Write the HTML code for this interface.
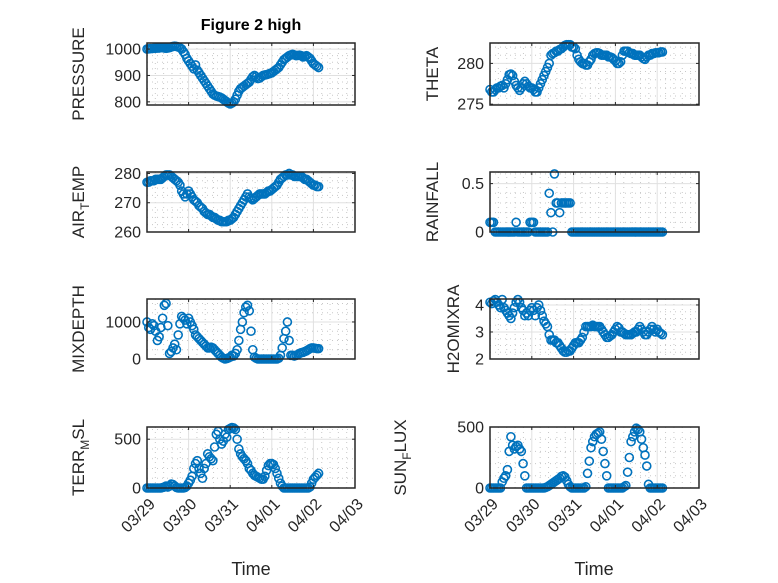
<!DOCTYPE html>
<html><head><meta charset="utf-8"><style>
body{margin:0;background:#fff;}
svg{display:block;font-family:"Liberation Sans","DejaVu Sans",sans-serif;}
</style></head><body>
<svg id="fig" width="778" height="583" viewBox="0 0 778 583" xmlns="http://www.w3.org/2000/svg">
<rect width="778" height="583" fill="#fff"/>
<text x="251" y="30" text-anchor="middle" font-size="16" font-weight="bold" fill="#000">Figure 2 high</text>
<text x="251" y="575" text-anchor="middle" font-size="18" fill="#262626">Time</text>
<text x="594" y="575" text-anchor="middle" font-size="18" fill="#262626">Time</text>
<g id="plots"></g>
</svg>
<script>
const dayTicks = ["03/29","03/30","03/31","04/01","04/02","04/03"];
const pressure = [1000,1001,1002,1002,1003,1003,1004,1004,1005,1005,1004,1003,1004,1005,1008,1010,1011,1010,1008,1005,1000,990,980,965,955,945,935,925,940,920,910,900,890,880,870,860,850,840,830,825,822,820,818,815,810,805,800,795,792,795,800,810,825,840,850,855,860,865,870,875,885,895,900,895,888,890,895,900,902,903,905,908,910,915,920,925,930,940,950,960,965,970,975,978,980,978,975,976,977,975,970,972,975,970,965,955,945,940,935,930];
const airTemp = [277,277,277.5,277.5,277.5,278,278,278,278,278.5,279,279.5,279.5,279.5,279,278.5,278,277.5,277,276,274,273,272,273,274,273,272,271,270.5,270,269,268.5,268,267,266.5,266,266,265.5,265,265,264.5,264,264,263.5,263.5,263.5,263.5,264,264,264.5,265,266,267,268,269,270,271,272,273,272,271.5,271,271.5,272,272.5,273,273,273,273,273.5,274,274,274.5,275,275.5,276,277,278,278.5,279,279.5,279.5,280,279.5,279.5,279,279,279,279,279,278.5,278,278,277.5,277,276.5,276,276,275.5,275.5];
const theta = [276.8,276.5,276.5,276.8,277,277,277.2,277.3,277,277.5,278,278.6,278.7,278.5,277.8,277.3,277,276.7,277,277.5,277.8,277.5,277.2,277,277,276.8,276.5,276.5,277,277.5,278,278.5,279,279.5,280,281,281.2,281.3,281.5,281.5,281.7,281.8,282,282.2,282.3,282.3,282.3,282,282,281.8,281,280.5,280.2,280,280,279.8,279.8,280.2,280.5,281,281.2,281.3,281.3,281.2,281,281,281,281,280.8,280.8,280.7,280.5,280.3,280,280,280.2,281,281.5,281.5,281.5,281.3,281.2,281.2,281,281,281,281,280.8,280.6,280.5,280.8,281,281,281.2,281.2,281.3,281.3,281.3,281.4,281.4];
const rainfall = [0.1,0.1,0.1,0,0,0,0,0,0,0,0,0,0,0,0,0.1,0,0,0,0,0,0,0,0.1,0.1,0.1,0,0,0,0,0,0,0,0,0.4,0.2,0,0.6,0.3,0.3,0.2,0.3,0.3,0.3,0.3,0.3,0.3,0,0,0,0,0,0,0,0,0,0,0,0,0,0,0,0,0,0,0,0,0,0,0,0,0,0,0,0,0,0,0,0,0,0,0,0,0,0,0,0,0,0,0,0,0,0,0,0,0,0,0,0,0];
const mixDepth = [1000,850,800,950,900,750,500,600,850,1100,1450,1500,900,150,200,300,400,250,650,950,1150,1100,1050,950,1100,1000,900,800,650,600,550,500,450,400,350,300,300,320,300,250,200,150,100,50,20,0,10,30,50,100,80,150,250,500,800,1000,1250,1400,1450,1300,750,250,50,20,0,0,0,0,0,0,0,0,0,0,0,0,20,100,300,550,750,1000,500,100,100,80,100,120,150,170,180,200,220,250,280,300,300,290,280,280];
const h2oMix = [4.1,4.05,4.15,4.2,4.1,4.0,3.9,4.2,3.9,3.8,3.7,3.6,3.5,3.7,3.9,4.1,4.2,4.1,3.9,3.8,3.6,3.7,3.6,3.8,3.9,3.8,3.6,3.9,4.0,3.8,3.6,3.4,3.3,3.2,2.9,2.7,2.7,2.7,2.6,2.6,2.5,2.4,2.3,2.25,2.25,2.3,2.3,2.4,2.5,2.6,2.6,2.6,2.7,2.8,3.0,3.2,3.2,3.2,3.2,3.25,3.2,3.2,3.2,3.2,3.1,3.0,2.9,2.8,2.8,2.85,2.9,3.0,3.1,3.2,3.15,3.0,3.0,2.95,2.9,2.9,2.9,2.9,2.95,3.0,3.0,3.1,3.2,3.1,3.0,2.9,2.9,3.0,3.1,3.2,3.1,3.0,3.1,3.0,2.95,2.9];
const terrMsl = [0,0,0,0,0,0,0,0,0,5,10,20,10,20,40,35,20,5,0,0,0,0,5,20,50,80,120,200,250,280,200,150,100,200,250,350,320,300,280,420,550,580,500,450,480,550,520,600,610,620,615,600,500,400,350,320,300,280,250,200,180,150,130,120,110,100,90,90,120,180,230,250,250,240,200,150,100,50,20,0,0,0,0,0,0,0,0,0,0,0,0,0,0,0,10,50,90,110,130,150];
const sunFlux = [0,0,0,0,0,0,0,50,80,100,150,300,420,350,320,340,350,320,300,200,100,0,0,0,0,0,0,0,0,0,0,0,5,10,20,30,40,50,60,70,80,95,100,90,60,30,10,0,0,0,0,0,0,0,0,10,120,220,330,380,420,440,450,460,400,300,200,100,0,0,0,0,0,0,0,0,0,10,20,130,250,380,420,460,490,480,460,400,330,270,180,30,0,0,0,0,0,0,0,0];

const NS="http://www.w3.org/2000/svg";
const root=document.getElementById('plots');
function mk(tag,attrs,parent){const e=document.createElementNS(NS,tag);for(const k in attrs)e.setAttribute(k,attrs[k]);(parent||root).appendChild(e);return e;}

const L={x0:147,x1:355}, R={x0:490,x1:699};
const rows=[{y0:43,y1:105},{y0:172,y1:232},{y0:299,y1:359},{y0:427,y1:488}];
const panels=[
 {key:"pressure",data:pressure,col:L,row:0,ymin:788,ymax:1023,ticks:[800,900,1000],minor:25,label:["PRESSURE"],lx:78},
 {key:"theta",data:theta,col:R,row:0,ymin:274.9,ymax:282.5,ticks:[275,280],minor:1,label:["THETA"],lx:432},
 {key:"air-temp",data:airTemp,col:L,row:1,ymin:260,ymax:280.5,ticks:[260,270,280],minor:2.5,label:["AIR","T","EMP"],lx:78},
 {key:"rainfall",data:rainfall,col:R,row:1,ymin:0,ymax:0.62,ticks:[0,0.5],minor:0.1,label:["RAINFALL"],lx:432},
 {key:"mixdepth",data:mixDepth,col:L,row:2,ymin:0,ymax:1620,ticks:[0,1000],minor:250,label:["MIXDEPTH"],lx:78},
 {key:"h2omixra",data:h2oMix,col:R,row:2,ymin:2,ymax:4.22,ticks:[2,3,4],minor:0.25,label:["H2OMIXRA"],lx:453},
 {key:"terr-msl",data:terrMsl,col:L,row:3,ymin:0,ymax:625,ticks:[0,500],minor:100,label:["TERR","M","SL"],lx:78},
 {key:"sun-flux",data:sunFlux,col:R,row:3,ymin:0,ymax:500,ticks:[0,500],minor:100,label:["SUN","F","LUX"],lx:400}
];

panels.forEach(p=>{
  const c=p.col, r=rows[p.row];
  const g=mk('g',{});
  
  
  const xs=d=>c.x0+(d/5)*(c.x1-c.x0);
  const ys=v=>r.y1-(v-p.ymin)/(p.ymax-p.ymin)*(r.y1-r.y0);
  for(let d=0.2;d<5;d+=0.2){ if(Math.abs(d-Math.round(d))<1e-6) continue;
    mk('line',{x1:xs(d),x2:xs(d),y1:r.y0,y2:r.y1,stroke:'#c8c8c8','stroke-dasharray':'1,4','stroke-width':1},g);}
  const start=Math.ceil(p.ymin/p.minor)*p.minor;
  for(let v=start;v<=p.ymax;v+=p.minor){ if(p.ticks.some(t=>Math.abs(t-v)<1e-9)) continue;
    mk('line',{x1:c.x0,x2:c.x1,y1:ys(v),y2:ys(v),stroke:'#c8c8c8','stroke-dasharray':'1,4','stroke-width':1},g);}
  for(let d=1;d<5;d++) mk('line',{x1:xs(d),x2:xs(d),y1:r.y0,y2:r.y1,stroke:'#e0e0e0','stroke-width':1},g);
  p.ticks.forEach(t=>{mk('line',{x1:c.x0,x2:c.x1,y1:ys(t),y2:ys(t),stroke:'#e0e0e0','stroke-width':1},g);});
  const pts=mk('g',{},g);
  
  
  p.data.forEach((v,i)=>{
    const m=mk('circle',{cx:xs(i/24),cy:ys(v),r:4,fill:'none',stroke:'#0072BD','stroke-width':1.6},pts);
    
    
  });
  const b=mk('rect',{x:c.x0,y:r.y0,width:c.x1-c.x0,height:r.y1-r.y0,fill:'none',stroke:'#262626','stroke-width':1.5},g);
  
  
  for(let d=0;d<=5;d++){
    mk('line',{x1:xs(d),x2:xs(d),y1:r.y1,y2:r.y1-3,stroke:'#262626'},g);
    mk('line',{x1:xs(d),x2:xs(d),y1:r.y0,y2:r.y0+3,stroke:'#262626'},g);
  }
  p.ticks.forEach(t=>{
    mk('line',{x1:c.x0,x2:c.x0+3,y1:ys(t),y2:ys(t),stroke:'#262626'},g);
    mk('line',{x1:c.x1,x2:c.x1-3,y1:ys(t),y2:ys(t),stroke:'#262626'},g);
    const tl=mk('text',{x:c.x0-6,y:ys(t)+5.5,'text-anchor':'end','font-size':16,fill:'#262626'},g);
    tl.textContent=String(t);
    
    
  });
  const cy=(r.y0+r.y1)/2;
  const yl=mk('text',{x:0,y:0,'text-anchor':'middle','font-size':17,fill:'#262626',transform:`translate(${p.lx+6},${cy}) rotate(-90)`},g);
  
  
  if(p.label.length===1){yl.textContent=p.label[0];}
  else{
    const a=mk('tspan',{},yl);a.textContent=p.label[0];
    const s=mk('tspan',{dy:5,'font-size':12},yl);s.textContent=p.label[1];
    const e=mk('tspan',{dy:-5},yl);e.textContent=p.label[2];
  }
  if(p.row===3){
    dayTicks.forEach((lab,d)=>{
      const t=mk('text',{x:0,y:0,'text-anchor':'end','font-size':16,fill:'#262626',transform:`translate(${xs(d)+9},${r.y1+17}) rotate(-45)`},g);
      t.textContent=lab;
      
      
    });
  }
});
</script>
</body></html>
